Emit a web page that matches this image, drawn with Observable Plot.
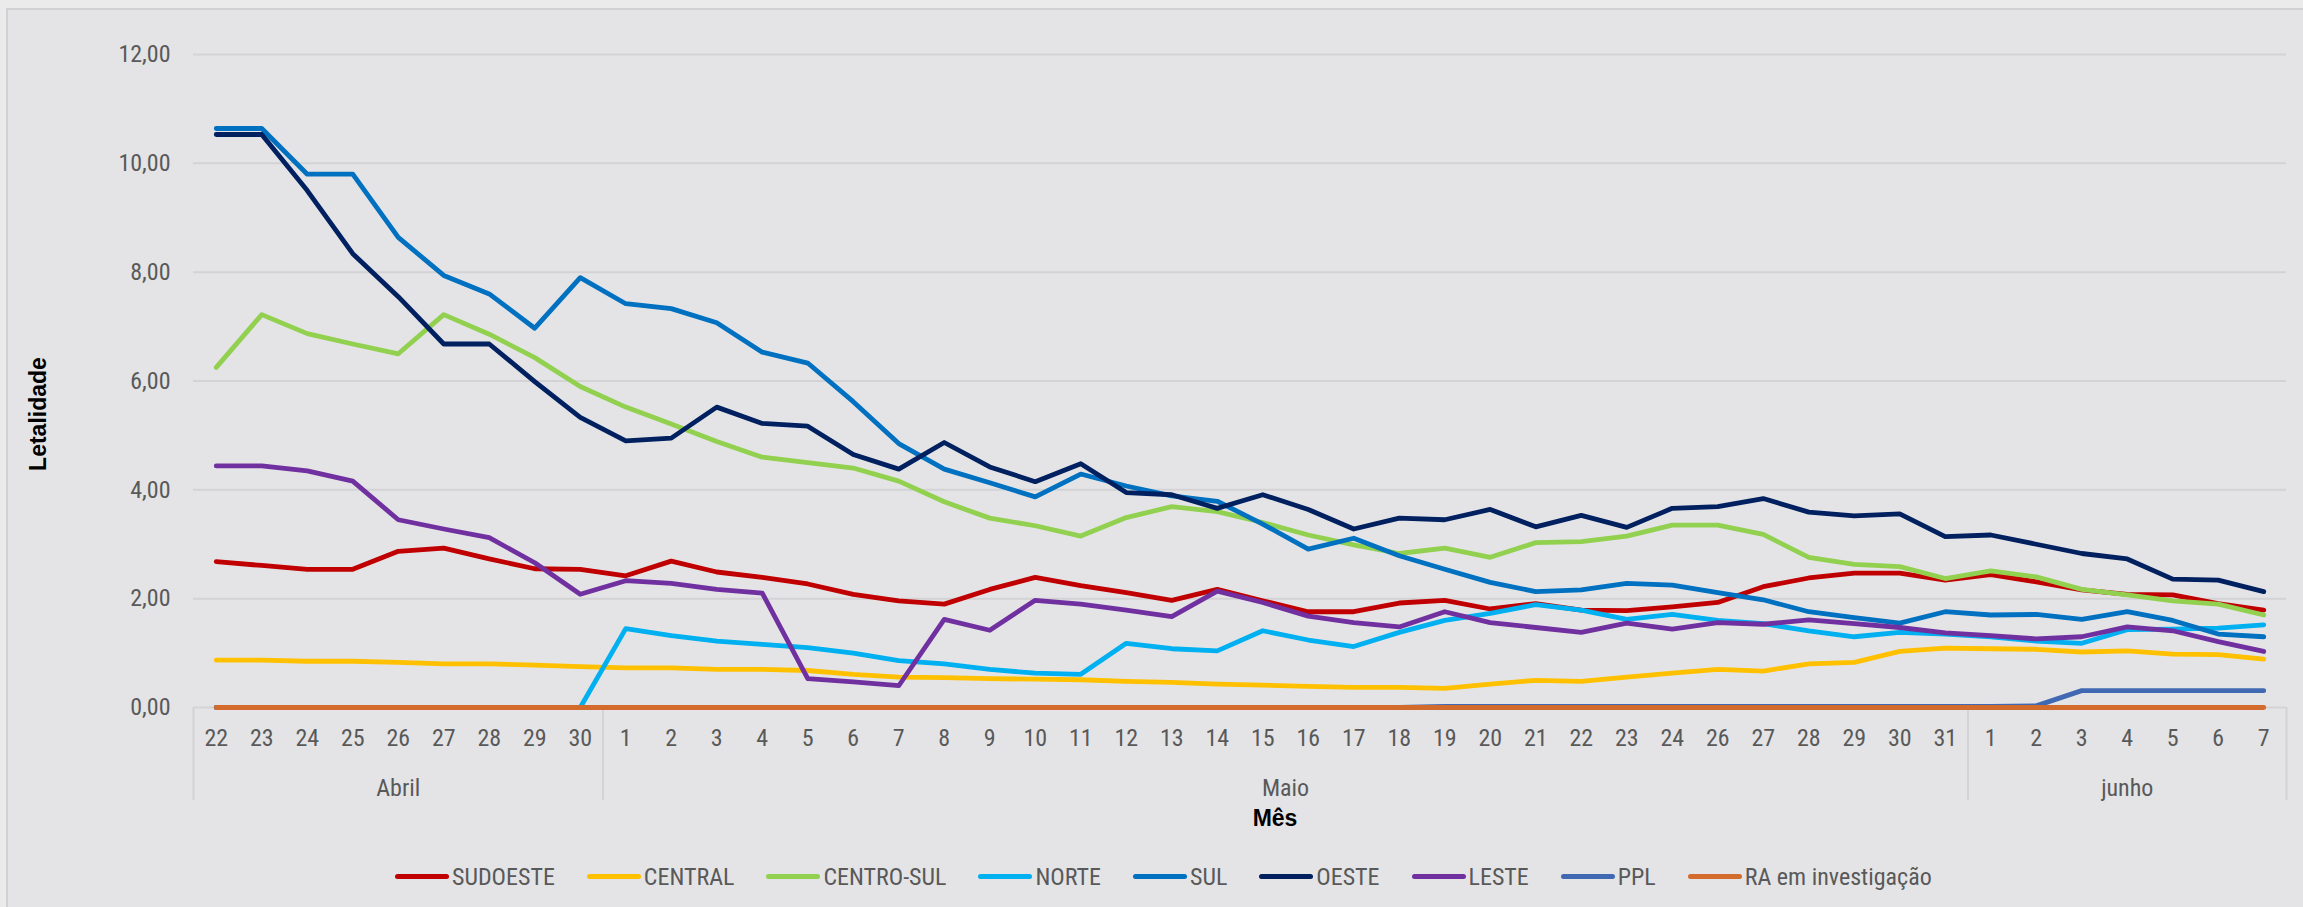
<!DOCTYPE html>
<html>
<head>
<meta charset="utf-8">
<script src="https://cdn.jsdelivr.net/npm/d3@7"></script>
<script src="https://cdn.jsdelivr.net/npm/@observablehq/plot@0.6"></script>
<style>
  html, body { margin: 0; padding: 0; }
  body { width: 2303px; height: 907px; background: #ebebeb; position: relative; overflow: hidden; }
  #frame { position: absolute; left: 6px; top: 8px; right: 0; bottom: 0; background: #e4e4e6;
           border-left: 2px solid #d2d2d2; border-top: 2px solid #d2d2d2; }
  #chart { position: absolute; left: 0; top: 0; }
  #legend { position: absolute; left: 395px; top: 843px; height: 67px; display: flex; align-items: center;
            gap: 32px; font-family: 'Liberation Sans Narrow', 'Roboto Condensed', 'Liberation Sans', sans-serif;
            font-size: 24px; color: #595959; }
  .item { display: flex; align-items: center; gap: 3px; }
  .sw { width: 54px; height: 5px; border-radius: 3px; }
</style>
</head>
<body>
<div id="frame"></div>
<div id="chart"></div>
<div id="legend"></div>
<script>
// Category labels (day of month); 25 de maio is absent in the source
const days = ["22","23","24","25","26","27","28","29","30",
  "1","2","3","4","5","6","7","8","9","10","11","12","13","14","15","16","17","18","19","20","21",
  "22","23","24","26","27","28","29","30","31",
  "1","2","3","4","5","6","7"];
const monthNames = ["Abril", "Maio", "junho"];
const monthCounts = [9, 30, 7];

const seriesNames = ["SUDOESTE","CENTRAL","CENTRO-SUL","NORTE","SUL","OESTE","LESTE","PPL","RA em investigação"];
const seriesColors = ["#c00000","#ffc000","#92d050","#00b0f0","#0070c0","#002060","#7030a0","#4168b2","#d26b2b"];

const sudoeste = [2.68,2.61,2.54,2.54,2.87,2.93,2.73,2.55,2.54,
  2.42,2.69,2.49,2.39,2.27,2.08,1.96,1.90,2.17,2.39,2.24,2.11,1.97,2.17,1.96,1.76,1.76,1.92,1.97,1.81,1.91,
  1.79,1.78,1.85,1.93,2.22,2.38,2.47,2.47,2.34,
  2.44,2.31,2.16,2.08,2.07,1.91,1.79];
const central = [0.87,0.87,0.85,0.85,0.83,0.80,0.80,0.78,0.75,
  0.73,0.73,0.70,0.70,0.68,0.61,0.56,0.55,0.53,0.52,0.51,0.48,0.46,0.43,0.41,0.39,0.37,0.37,0.35,0.43,0.50,
  0.48,0.56,0.63,0.70,0.67,0.80,0.83,1.03,1.09,
  1.08,1.07,1.02,1.04,0.98,0.97,0.89];
const centroSul = [6.25,7.22,6.87,6.68,6.50,7.22,6.86,6.43,5.90,
  5.52,5.21,4.89,4.60,4.50,4.40,4.16,3.78,3.48,3.34,3.15,3.49,3.69,3.60,3.40,3.17,2.99,2.83,2.93,2.76,3.03,
  3.05,3.15,3.35,3.35,3.18,2.76,2.63,2.59,2.37,
  2.51,2.40,2.17,2.07,1.96,1.90,1.70];
const norte = [0,0,0,0,0,0,0,0,0,
  1.45,1.32,1.22,1.16,1.10,1.00,0.86,0.80,0.70,0.63,0.61,1.18,1.08,1.04,1.41,1.24,1.12,1.38,1.60,1.73,1.89,
  1.79,1.62,1.71,1.60,1.54,1.41,1.30,1.38,1.35,
  1.30,1.22,1.18,1.43,1.44,1.46,1.52];
const sul = [10.64,10.64,9.80,9.80,8.64,7.94,7.60,6.97,7.90,
  7.42,7.33,7.07,6.53,6.33,5.62,4.85,4.38,4.13,3.87,4.29,4.07,3.89,3.79,3.37,2.91,3.11,2.79,2.54,2.30,2.13,
  2.16,2.28,2.25,2.11,1.98,1.76,1.65,1.55,1.76,
  1.70,1.71,1.62,1.76,1.60,1.35,1.30];
const oeste = [10.53,10.53,9.50,8.34,7.55,6.68,6.68,5.99,5.33,
  4.90,4.95,5.52,5.22,5.17,4.65,4.38,4.87,4.42,4.15,4.48,3.95,3.91,3.66,3.91,3.64,3.28,3.48,3.45,3.64,3.32,
  3.53,3.31,3.66,3.69,3.84,3.59,3.52,3.56,3.14,
  3.17,3.00,2.83,2.73,2.36,2.34,2.13];
const leste = [4.44,4.44,4.35,4.16,3.45,3.28,3.12,2.66,2.08,
  2.33,2.28,2.17,2.10,0.53,0.47,0.40,1.62,1.42,1.97,1.90,1.79,1.67,2.14,1.93,1.68,1.56,1.48,1.76,1.56,1.47,
  1.38,1.55,1.44,1.56,1.53,1.61,1.54,1.47,1.37,
  1.32,1.26,1.30,1.48,1.41,1.21,1.03];
const ppl = [0,0,0,0,0,0,0,0,0,
  0,0,0,0,0,0,0,0,0,0,0,0,0,0,0,0,0,0,0.02,0.02,0.02,
  0.02,0.02,0.02,0.02,0.02,0.02,0.02,0.02,0.02,
  0.02,0.03,0.31,0.31,0.31,0.31,0.31];
const raInvestigacao = [0,0,0,0,0,0,0,0,0,
  0,0,0,0,0,0,0,0,0,0,0,0,0,0,0,0,0,0,0,0,0,
  0,0,0,0,0,0,0,0,0,
  0,0,0,0,0,0,0];

const yTicks = [0, 2, 4, 6, 8, 10, 12];

// ---- build tables from the arrays ----
const seriesValues = [sudoeste, central, centroSul, norte, sul, oeste, leste, ppl, raInvestigacao];
const rows = [];
seriesValues.forEach((vals, s) => vals.forEach((v, i) => rows.push({series: seriesNames[s], i, v})));

const monthGroups = [];
const boundaries = [-0.5];
let start = 0;
monthNames.forEach((name, k) => {
  const end = start + monthCounts[k];
  monthGroups.push({name, mid: (start + end - 1) / 2});
  boundaries.push(end - 0.5);
  start = end;
});

const fmt = d => d.toFixed(2).replace(".", ",");
const font = "'Liberation Sans Narrow', 'Roboto Condensed', 'Liberation Sans', sans-serif";

const W = 2303, H = 840, mT = 54, mB = 133, mL = 193, mR = 17;
const frameH = H - mT - mB;

const chart = Plot.plot({
  width: W, height: H,
  marginTop: mT, marginBottom: mB, marginLeft: mL, marginRight: mR,
  style: {fontFamily: font, fontSize: "24px", color: "#595959", background: "transparent", overflow: "visible"},
  x: {type: "linear", domain: [-0.5, days.length - 0.5]},
  y: {domain: [0, 12]},
  color: {domain: seriesNames, range: seriesColors},
  marks: [
    Plot.gridY(yTicks.filter(d => d > 0), {stroke: "#d3d3d5", strokeOpacity: 1, strokeWidth: 2}),
    Plot.ruleY([0], {stroke: "#d3d3d5", strokeWidth: 2}),
    Plot.ruleX(boundaries, {x: d => d, insetTop: frameH, insetBottom: -93, stroke: "#d3d3d5", strokeWidth: 2}),
    Plot.axisY({ticks: yTicks, tickSize: 0, tickPadding: 23, tickFormat: fmt, label: null, fill: "#595959", fontSize: 24}),
    Plot.axisX({ticks: d3.range(days.length), tickSize: 0, tickPadding: 21, tickFormat: i => days[i], label: null, fill: "#595959", fontSize: 24}),
    Plot.text(monthGroups, {x: "mid", text: "name", frameAnchor: "bottom", dy: 88, fill: "#595959", fontSize: 24}),
    Plot.text(["Mês"], {text: d => d, frameAnchor: "bottom", dy: 118, dx: 35, fontWeight: "bold", fill: "#000",
      fontSize: 23, fontFamily: "'Liberation Sans', Arial, sans-serif"}),
    Plot.text(["Letalidade"], {text: d => d, frameAnchor: "left", textAnchor: "middle", rotate: -90, dx: -155, dy: 33,
      fontWeight: "bold", fill: "#000", fontSize: 23, fontFamily: "'Liberation Sans', Arial, sans-serif"}),
    Plot.line(rows, {x: "i", y: "v", z: "series", stroke: "series", strokeWidth: 4.8,
      strokeLinejoin: "round", strokeLinecap: "round"})
  ]
});
document.getElementById("chart").appendChild(chart);

// legend
const legend = document.getElementById("legend");
seriesNames.forEach((name, k) => {
  const item = document.createElement("div");
  item.className = "item";
  const sw = document.createElement("span");
  sw.className = "sw";
  sw.style.background = seriesColors[k];
  const lab = document.createElement("span");
  lab.textContent = name;
  item.appendChild(sw);
  item.appendChild(lab);
  legend.appendChild(item);
});
</script>
</body>
</html>
